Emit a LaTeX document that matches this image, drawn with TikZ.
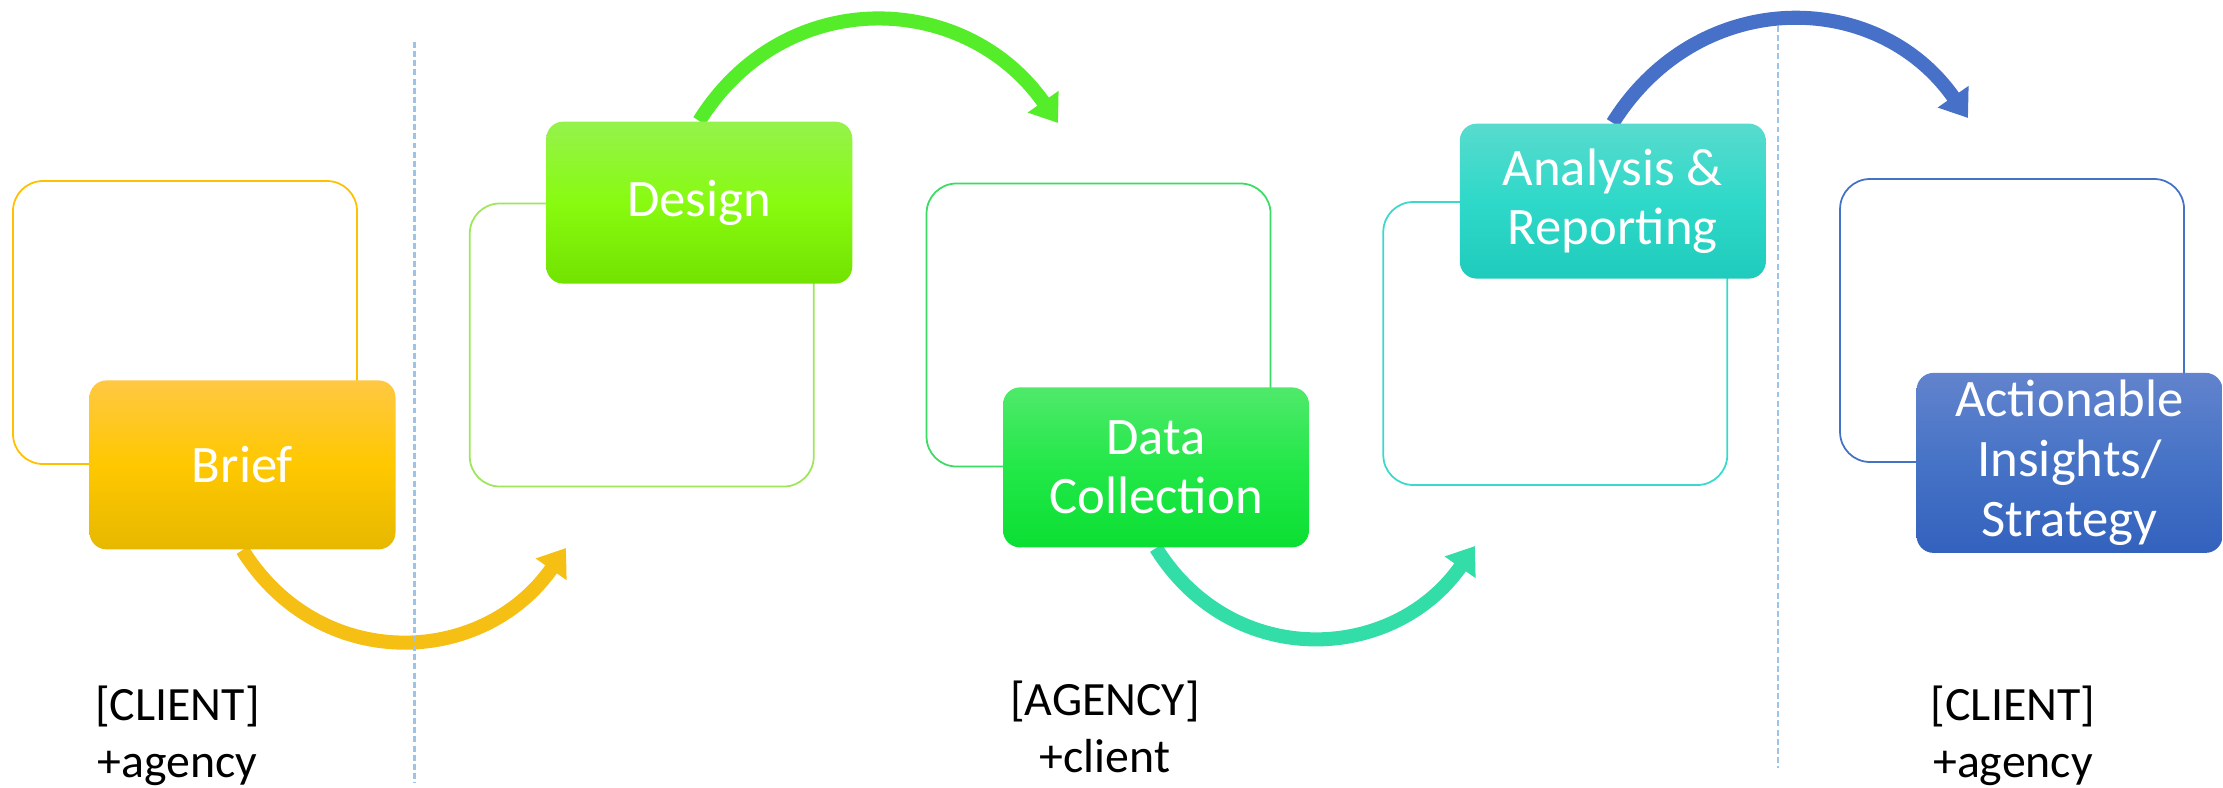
\documentclass[tikz,border=0pt]{standalone}
\usepackage{fontspec}
\setmainfont{Carlito}
\usepackage{tikz}
\usetikzlibrary{positioning,arrows.meta}

% outline colours of the frames
\definecolor{goldline}{HTML}{FFC000}
\definecolor{limeline}{HTML}{9EE65A}
\definecolor{greenline}{HTML}{3CDB64}
\definecolor{tealline}{HTML}{3AD9CB}
\definecolor{blueline}{HTML}{4472C4}
\definecolor{cutblue}{HTML}{9DC3E6}
% stage fills, top / middle / bottom
\definecolor{brieftop}{HTML}{FFC843}
\definecolor{briefmid}{HTML}{FFC800}
\definecolor{briefbot}{HTML}{E6B800}
\definecolor{designtop}{HTML}{95F24C}
\definecolor{designmid}{HTML}{88FB10}
\definecolor{designbot}{HTML}{72E200}
\definecolor{datatop}{HTML}{4FE96B}
\definecolor{datamid}{HTML}{22E848}
\definecolor{databot}{HTML}{0BDF33}
\definecolor{analysistop}{HTML}{58DBCE}
\definecolor{analysismid}{HTML}{2ED9C9}
\definecolor{analysisbot}{HTML}{1FCBBC}
\definecolor{actiontop}{HTML}{6283CD}
\definecolor{actionmid}{HTML}{4673C6}
\definecolor{actionbot}{HTML}{3362BE}
% arrow colours
\definecolor{goldarrow}{HTML}{F5BF14}
\definecolor{limearrow}{HTML}{55EC2A}
\definecolor{tealarrow}{HTML}{33DDA8}
\definecolor{bluearrow}{HTML}{4771C8}

\pgfdeclarelayer{background}
\pgfsetlayers{background,main}

\begin{document}
\begin{tikzpicture}[
    >={Triangle[length=2.6mm,width=3.6mm]},
    stageframe/.style={draw, line width=0.5pt, rounded corners=3mm,
        minimum width=3.44cm, minimum height=2.83cm, node distance=1.11cm},
    stage/.style={rounded corners=1.7mm, minimum width=3.06cm, minimum height=1.62cm,
        text=white, align=center, inner sep=2pt, font=\fontsize{15}{17}\selectfont},
    handoff/.style={->, line width=4pt},
    divider/.style={draw=cutblue, line width=0.6pt, dash pattern=on 1.7pt off 0.9pt},
    role/.style={align=center, font=\fontsize{13.6}{16.2}\selectfont}]

    \useasboundingbox (0,0) rectangle (22.23,7.87);

    % empty frames behind the stages
    \node[stageframe, draw=goldline] (briefbox) at (1.85,4.645) {};
    \node[stageframe, draw=limeline, right=of briefbox, yshift=-2.25mm] (designbox) {};
    \node[stageframe, draw=greenline, right=of designbox, yshift=2mm] (databox) {};
    \node[stageframe, draw=tealline, right=of databox, yshift=-1.85mm] (analysisbox) {};
    \node[stageframe, draw=blueline, right=of analysisbox, yshift=2.3mm] (actionbox) {};

    % the stages, sitting on the frame edges
    \node[stage, minimum height=1.69cm, top color=brieftop, bottom color=briefbot, middle color=briefmid]
        (brief) at ([xshift=5.75mm]briefbox.south) {Brief};
    \node[stage, top color=designtop, bottom color=designbot, middle color=designmid]
        (design) at ([xshift=5.75mm]designbox.north) {Design};
    \node[stage, minimum height=1.6cm, top color=datatop, bottom color=databot, middle color=datamid]
        (data) at ([xshift=5.75mm]databox.south) {Data\\Collection};
    \node[stage, minimum height=1.55cm, top color=analysistop, bottom color=analysisbot, middle color=analysismid]
        (analysis) at ([xshift=5.75mm]analysisbox.north) {Analysis \&\\Reporting};
    \node[stage, minimum height=1.8cm, top color=actiontop, bottom color=actionbot, middle color=actionmid]
        (action) at ([xshift=5.75mm]actionbox.south) {Actionable\\Insights/\\Strategy};

    % where the curved arrows land
    \coordinate (briefend) at (5.66,2.39);
    \coordinate (designend) at (10.58,6.64);
    \coordinate (dataend) at (14.75,2.41);
    \coordinate (analysisend) at (19.68,6.69);

    \begin{pgfonlayer}{background}
        \draw[handoff, draw=goldarrow] (brief.south) to[out=-58, in=-125, looseness=1.15] (briefend);
        \draw[handoff, draw=limearrow] (design.north) to[out=58, in=125, looseness=1.15] (designend);
        \draw[handoff, draw=tealarrow] (data.south) to[out=-58, in=-125, looseness=1.15] (dataend);
        \draw[handoff, draw=bluearrow] (analysis.north) to[out=58, in=125, looseness=1.15] (analysisend);
    \end{pgfonlayer}

    % client / agency split
    \coordinate (cuta) at (4.145,7.45);
    \coordinate (cutb) at (4.145,0.04);
    \coordinate (cutc) at (17.78,7.61);
    \coordinate (cutd) at (17.78,0.19);
    \draw[divider] (cuta) -- (cutb);
    \draw[divider] (cutc) -- (cutd);

    \node[role] (clientleft) at (1.775,0.51) {[CLIENT]\\+agency};
    \node[role] (agency) at (11.05,0.60) {[AGENCY]\\+client};
    \node[role] (clientright) at (20.13,0.51) {[CLIENT]\\+agency};

\end{tikzpicture}
\end{document}
